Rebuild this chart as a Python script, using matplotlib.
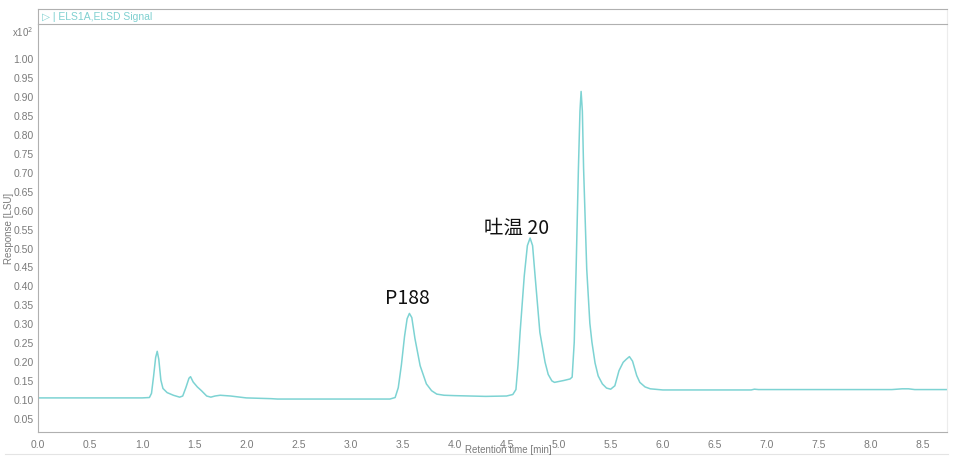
import numpy as np
import matplotlib
matplotlib.use("Agg")
import matplotlib.pyplot as plt
from matplotlib.lines import Line2D

plt.rcParams['font.family'] = ['Noto Sans CJK SC', 'DejaVu Sans']

# trace points (retention time [min], response x10^2 [LSU])
rt = [0.00, 1.00, 1.07, 1.09, 1.11, 1.13, 1.145, 1.16, 1.18, 1.20, 1.24, 1.30, 1.36,
      1.39, 1.42, 1.45, 1.465, 1.49, 1.53, 1.57, 1.62, 1.66, 1.70, 1.75, 1.85, 2.00,
      2.24, 2.30, 3.00, 3.38, 3.43, 3.46, 3.49, 3.52, 3.545, 3.567, 3.59, 3.62, 3.67,
      3.73, 3.78, 3.83, 3.90, 4.00, 4.30, 4.50, 4.56, 4.59, 4.61, 4.63, 4.67, 4.70,
      4.726, 4.75, 4.774, 4.82, 4.87, 4.90, 4.935, 4.96, 5.05, 5.11, 5.13, 5.15, 5.168,
      5.19, 5.205, 5.216, 5.228, 5.24, 5.27, 5.30, 5.32, 5.35, 5.38, 5.42, 5.46, 5.50,
      5.54, 5.58, 5.62, 5.65, 5.68, 5.71, 5.75, 5.78, 5.83, 5.88, 6.00, 6.50, 6.85,
      6.88, 6.92, 7.50, 8.20, 8.30, 8.36, 8.42, 8.73]
resp = [0.103, 0.103, 0.104, 0.115, 0.160, 0.210, 0.226, 0.205, 0.150, 0.128, 0.117, 0.110, 0.105,
        0.108, 0.130, 0.155, 0.159, 0.145, 0.132, 0.122, 0.108, 0.105, 0.108, 0.110, 0.108, 0.103,
        0.101, 0.100, 0.100, 0.100, 0.104, 0.130, 0.190, 0.265, 0.312, 0.326, 0.315, 0.260, 0.188,
        0.140, 0.122, 0.113, 0.110, 0.109, 0.107, 0.108, 0.112, 0.125, 0.190, 0.276, 0.425, 0.505,
        0.525, 0.505, 0.425, 0.276, 0.197, 0.165, 0.148, 0.144, 0.149, 0.153, 0.158, 0.250, 0.443,
        0.707, 0.860, 0.912, 0.860, 0.707, 0.443, 0.300, 0.250, 0.195, 0.161, 0.140, 0.129, 0.126,
        0.135, 0.175, 0.197, 0.205, 0.212, 0.200, 0.162, 0.144, 0.132, 0.127, 0.124, 0.124, 0.124,
        0.126, 0.125, 0.125, 0.125, 0.127, 0.127, 0.125, 0.125]

x_ticks = np.arange(0, 8.51, 0.5)
y_ticks = np.arange(0.05, 1.001, 0.05)

labels = ["P188", "吐温 20"]
label_pos = [(3.55, 0.369), (4.60, 0.554)]

line_col = "#7dd3d3"
grey = "#7a7a7a"
small_font = ['Liberation Sans', 'DejaVu Sans']
W, H = 956, 464

fig = plt.figure(figsize=(W / 100, H / 100), dpi=100)
ax = fig.add_axes([38 / W, 1 - 433 / H, (947 - 38) / W, (433 - 25) / H])
ax.plot(rt, resp, color=line_col, lw=1.1)
ax.set_xlim(0, 8.73)
ax.set_ylim(0.013, 1.09)
ax.set_xticks(x_ticks)
ax.set_xticklabels([f"{v:.1f}" for v in x_ticks])
ax.set_yticks(y_ticks)
ax.set_yticklabels([f"{v:.2f}" for v in y_ticks])
ax.tick_params(axis="x", length=0, labelsize=7.5, labelcolor=grey, pad=5)
ax.tick_params(axis="y", length=0, labelsize=7.5, labelcolor=grey, pad=3)
for lab in ax.get_xticklabels() + ax.get_yticklabels():
    lab.set_family(small_font)
for s in ["left", "bottom"]:
    ax.spines[s].set_color("#b0b0b0")
ax.spines["top"].set_visible(False)
ax.spines["right"].set_color("#ececec")

for txt, (tx, ty) in zip(labels, label_pos):
    ax.text(tx, ty, txt, ha="center", va="center", fontsize=14, color="#111111")

# title strip
ts = fig.add_axes([38 / W, 1 - 25 / H, (947 - 38) / W, 15 / H])
ts.set_xticks([])
ts.set_yticks([])
for s in ts.spines.values():
    s.set_color("#b0b0b0")
ts.spines["right"].set_color("#ececec")
ts.text(0.004, 0.5, "▷ | ELS1A,ELSD Signal", transform=ts.transAxes, ha="left",
        va="center", fontsize=7.5, color="#7fd0d0", family=small_font)

fig.text(12 / W, 1 - 32 / H, r"x10$^{2}$", ha="left", va="center", fontsize=7,
         color=grey, family=small_font)
fig.text(9 / W, 1 - 228 / H, "Response [LSU]", rotation=90, ha="center", va="center",
         fontsize=7, color=grey, family=small_font)
fig.text(508 / W, 1 - 450 / H, "Retention time [min]", ha="center", va="center",
         fontsize=7, color=grey, family=small_font)
fig.add_artist(Line2D([5 / W, 948 / W], [1 - 455 / H, 1 - 455 / H],
                      transform=fig.transFigure, color="#e4e4e4", lw=0.8))

fig.savefig("out.png", dpi=100, facecolor="white")
